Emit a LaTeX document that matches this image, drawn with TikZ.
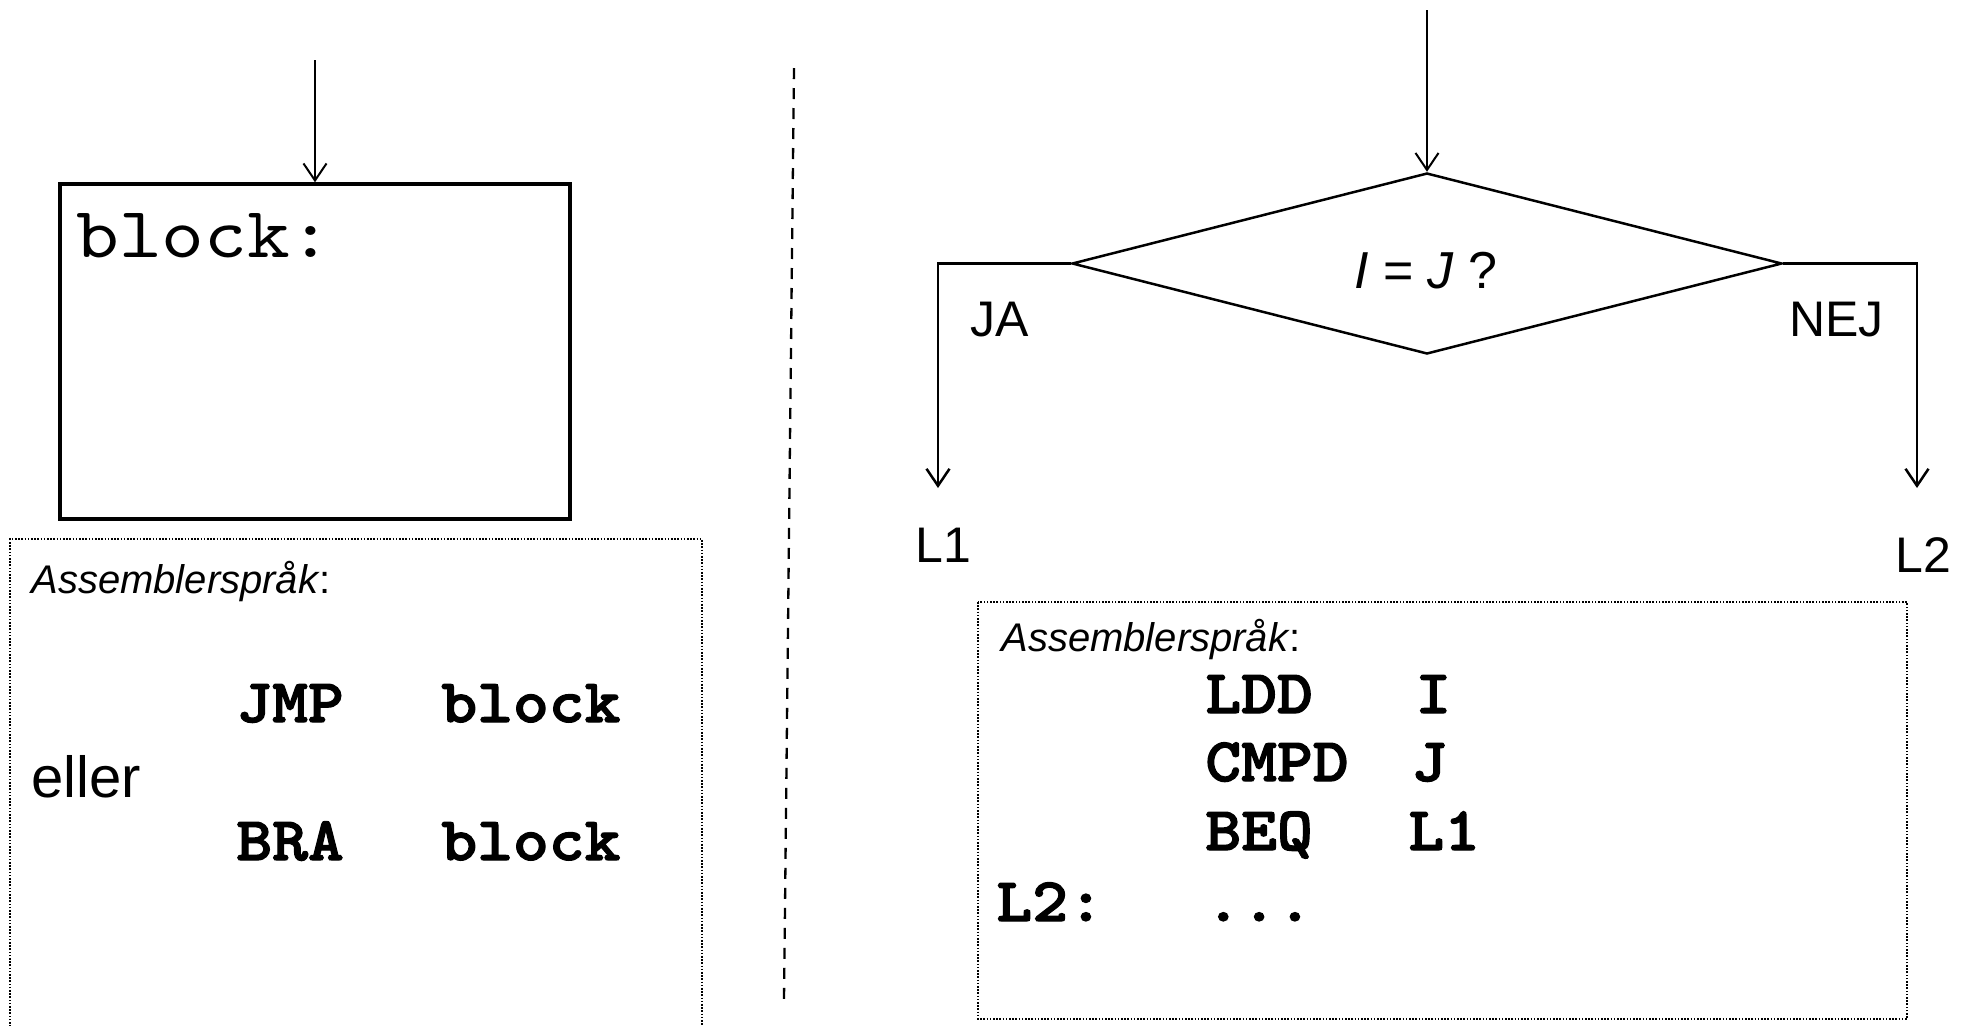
\documentclass[tikz,border=0pt]{standalone}
\usepackage{fontspec}
\setmainfont{Liberation Sans}
\newfontfamily\courreg[FakeStretch=1.13]{lmmono10-regular.otf}
\newfontfamily\courbold[FakeStretch=1.1,FakeBold=2]{lmmonolt10-bold.otf}
\usetikzlibrary{arrows.meta,shapes.geometric}
\begin{document}
\begin{tikzpicture}[x=0.5pt,y=-0.5pt,
  arr/.style={-{Straight Barb[length=8.5pt,width=11.5pt]}, line width=1pt},
  solidbox/.style={draw, line width=1.75pt, inner sep=0pt},
  dotbox/.style={line width=0.8pt, dash pattern=on 0.8pt off 0.8pt},
  sepline/.style={line width=1.15pt, dash pattern=on 5.5pt off 4.5pt},
  flow/.style={line width=1.25pt},
  code/.style={font=\fontsize{31}{31}\courbold, inner sep=0pt, anchor=base west},
  lbl/.style={font=\fontsize{25}{25}\selectfont, inner sep=0pt, anchor=base west},
  asm/.style={font=\fontsize{20}{20}\selectfont, inner sep=0pt, anchor=base west},
]
\useasboundingbox (0,0) rectangle (1966,1025);

% ---------- left part ----------
\coordinate (inA) at (315,60);
\node[solidbox, minimum width=255pt, minimum height=167.5pt] (blk) at (315,351.5) {};
\node[font=\fontsize{36}{36}\courreg, inner sep=0pt, anchor=base west] (blklbl) at (76,257) {block:};
\draw[arr] (inA) -- (blk.north);

\coordinate (lb1) at (10,1030);
\coordinate (lb2) at (10,539);
\coordinate (lb3) at (702,539);
\coordinate (lb4) at (702,1030);
\draw[dotbox] (lb1) -- (lb2) -- (lb3) -- (lb4);

\node[asm] (asmL) at (31,593) {\textit{Assemblerspråk}:};
\node[code] (jmp) at (236,722) {JMP};
\node[code] (jmpa) at (441,722) {block};
\node[font=\fontsize{29}{29}\selectfont, inner sep=0pt, anchor=base west] (eller) at (31,797) {eller};
\node[code] (bra) at (236,860) {BRA};
\node[code] (braa) at (441,860) {block};

% ---------- separator ----------
\coordinate (s1) at (794,68);
\coordinate (s2) at (784,1000);
\draw[sepline] (s1) -- (s2);

% ---------- right part ----------
\coordinate (inB) at (1427,10);
\node[diamond, draw, flow, inner sep=0pt, minimum width=355pt, minimum height=90.5pt] (dec) at (1427,263.5) {};
\node[font=\fontsize{26}{26}\selectfont, inner sep=0pt, anchor=base] (cond) at (1426,288) {\textit{I} = \textit{J} ?};
\draw[arr] (inB) -- (dec.north);

\coordinate (ja) at (938,488);
\coordinate (nej) at (1917,488);
\draw[flow, -{Straight Barb[length=8.5pt,width=11.5pt]}] (dec.west) -| (ja);
\draw[flow, -{Straight Barb[length=8.5pt,width=11.5pt]}] (dec.east) -| (nej);

\node[lbl] (jalbl) at (970,336) {JA};
\node[lbl] (nejlbl) at (1789,336) {NEJ};
\node[lbl] (l1) at (915,562) {L1};
\node[lbl] (l2) at (1895,572) {L2};

\coordinate (rb1) at (978,602);
\coordinate (rb2) at (1907,1019);
\draw[dotbox] (rb1) rectangle (rb2);

\node[asm] (asmR) at (1001,651) {\textit{Assemblerspråk}:};
\node[code] (ldd) at (1205,713) {LDD};
\node[code] (lddo) at (1415,713) {I};
\node[code] (cmpd) at (1205,781) {CMPD};
\node[code] (cmpdo) at (1411,781) {J};
\node[code] (beq) at (1205,850) {BEQ};
\node[code] (beqo) at (1408,850) {L1};
\node[code] (l2c) at (996,921) {L2:};
\node[code] (dots) at (1205,921) {...};
\end{tikzpicture}
\end{document}
